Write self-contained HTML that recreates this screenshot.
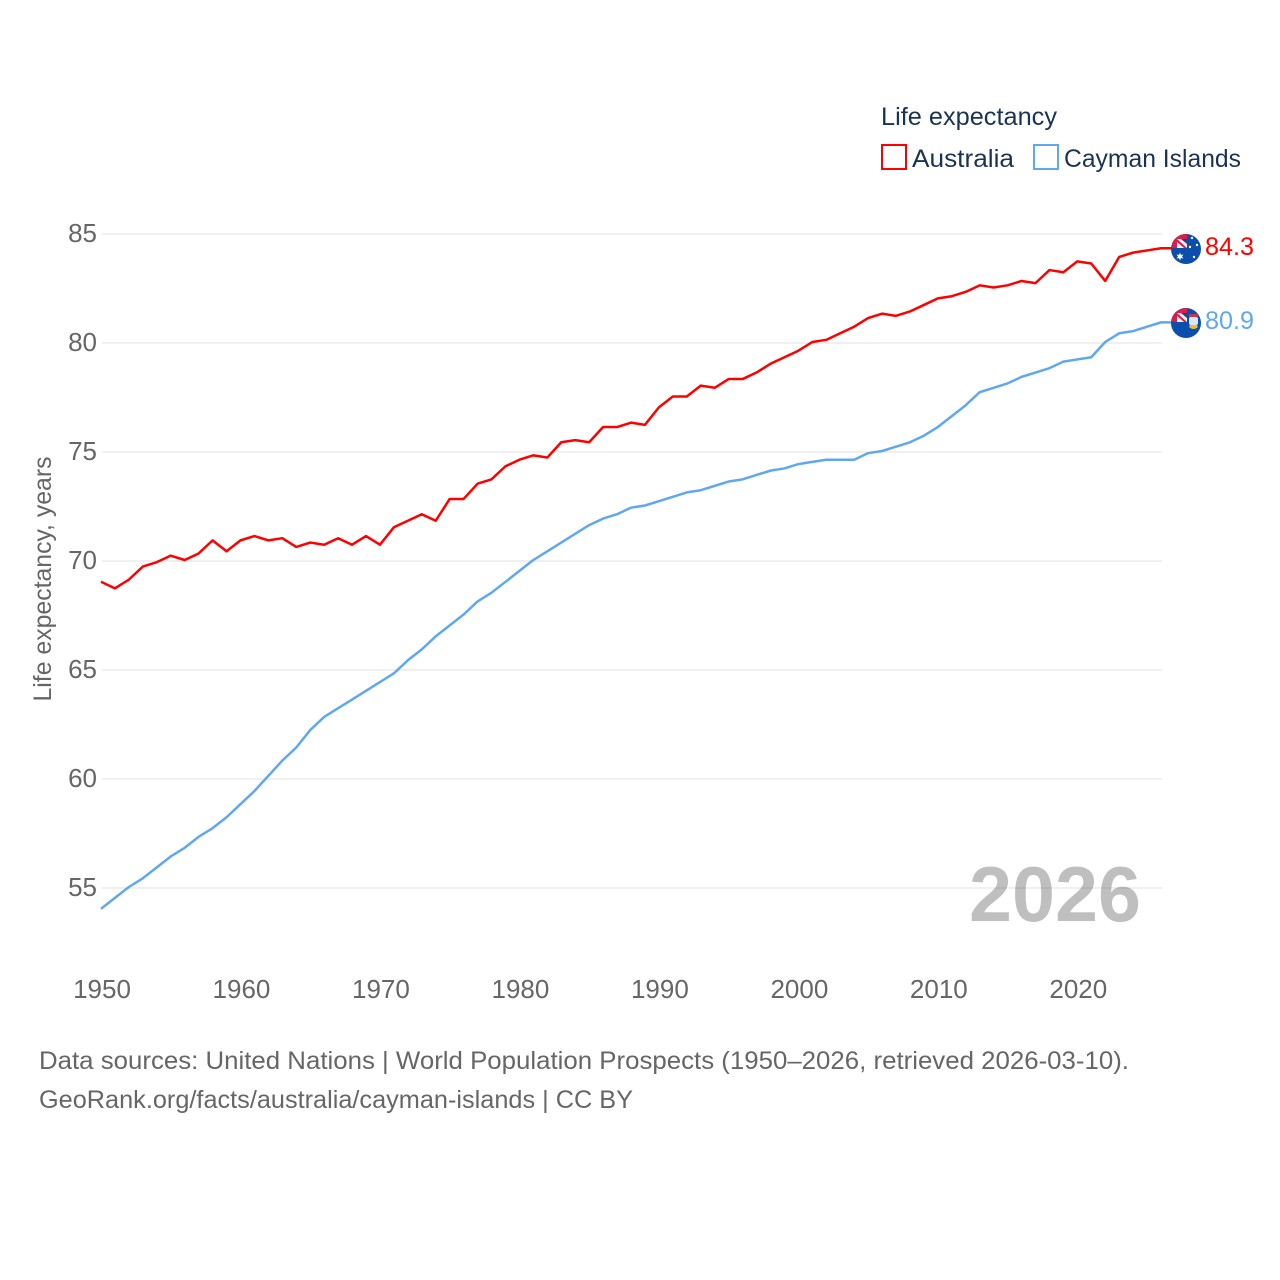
<!DOCTYPE html>
<html lang="en">
<head>
<meta charset="utf-8">
<title>Life expectancy: Australia and Cayman Islands</title>
<style>
html,body{margin:0;padding:0;background:#fff;width:1280px;height:1280px;overflow:hidden}
svg{display:block}
text{font-family:"Liberation Sans",sans-serif}
</style>
</head>
<body>
<svg id="chart" xmlns="http://www.w3.org/2000/svg" width="1280" height="1280" viewBox="0 0 1280 1280">
  <rect x="0" y="0" width="1280" height="1280" fill="#fff"/>
  <g id="grid"></g>
  <g id="yticks"></g>
  <g id="xticks"></g>
  <text transform="translate(51 579) rotate(-90)" text-anchor="middle" font-size="25" fill="#666" textLength="245" lengthAdjust="spacingAndGlyphs">Life expectancy, years</text>
  <text x="969" y="921" font-size="78" font-weight="bold" fill="#000" fill-opacity="0.25" textLength="172" lengthAdjust="spacingAndGlyphs">2026</text>
  <g id="series"></g>

  <g>
    <text x="881" y="125" font-size="25" fill="#1a3352" textLength="176" lengthAdjust="spacingAndGlyphs">Life expectancy</text>
    <rect x="882" y="145" width="24" height="24" fill="none" stroke="#ff0000" stroke-width="2"/>
    <text x="912" y="167" font-size="25" fill="#1a3352" textLength="102" lengthAdjust="spacingAndGlyphs">Australia</text>
    <rect x="1034" y="145" width="24" height="24" fill="none" stroke="#5fa8f0" stroke-width="2"/>
    <text x="1064" y="167" font-size="25" fill="#1a3352" textLength="177" lengthAdjust="spacingAndGlyphs">Cayman Islands</text>
  </g>

  <defs>
    <clipPath id="flagClipA"><circle cx="1186" cy="249" r="15"/></clipPath>
    <clipPath id="flagClipC"><circle cx="1186" cy="323" r="15"/></clipPath>
  </defs>
  <g clip-path="url(#flagClipA)">
    <rect x="1171" y="234" width="30" height="30" fill="#0b4eab"/>
    <rect x="1172" y="234" width="15" height="14" fill="#d81e4a"/>
    <rect x="1177" y="239" width="10" height="9" fill="#eef0f4"/>
    <path d="M1177 239L1187 248H1184L1177 242Z" fill="#d81e4a"/>
    <path d="M1181 239H1187V244Z" fill="#23407c"/>
    <path d="M1180 252.500L1181 255L1183.500 254.500L1182 256.500L1183.500 258.500L1181 258L1180 260.500L1179 258L1176.500 258.500L1178 256.500L1176.500 254.500L1179 255Z" fill="#fff"/>
    <circle cx="1192" cy="238" r="1.2" fill="#fff"/>
    <circle cx="1197" cy="245" r="1.2" fill="#fff"/>
    <circle cx="1190" cy="247" r="1.2" fill="#fff"/>
    <circle cx="1194" cy="257" r="1.2" fill="#fff"/>
  </g>
  <g clip-path="url(#flagClipC)">
    <rect x="1171" y="308" width="30" height="30" fill="#0b4eab"/>
    <rect x="1172" y="308" width="15" height="14" fill="#d81e4a"/>
    <rect x="1177" y="313" width="10" height="9" fill="#eef0f4"/>
    <path d="M1177 313L1187 322H1184L1177 316Z" fill="#d81e4a"/>
    <path d="M1181 313H1187V318Z" fill="#23407c"/>
    <rect x="1189" y="314" width="9" height="3" fill="#c8344a"/>
    <rect x="1189" y="317" width="9" height="8" rx="2" fill="#dce8f0"/>
    <path d="M1189 327Q1193.500 331 1198 327L1197 325H1190Z" fill="#f0c030"/>
  </g>
  <text x="1205" y="255" font-size="25" fill="#ff0000" textLength="49" lengthAdjust="spacingAndGlyphs">84.3</text>
  <text x="1205" y="329" font-size="25" fill="#5fa8f0" textLength="49" lengthAdjust="spacingAndGlyphs">80.9</text>

  <g>
    <text x="39" y="1069" font-size="25" fill="#666" textLength="1090" lengthAdjust="spacingAndGlyphs">Data sources: United Nations | World Population Prospects (1950–2026, retrieved 2026-03-10).</text>
    <text x="39" y="1108" font-size="25" fill="#666" textLength="594" lengthAdjust="spacingAndGlyphs">GeoRank.org/facts/australia/cayman-islands | CC BY</text>
  </g>
</svg>
<script>
const startYear = 1950;
const yTickValues = [55, 60, 65, 70, 75, 80, 85];
const xTickValues = [1950, 1960, 1970, 1980, 1990, 2000, 2010, 2020];
const australiaValues = [69.0,68.7,69.1,69.7,69.9,70.2,70.0,70.3,70.9,70.4,70.9,71.1,70.9,71.0,70.6,70.8,70.7,71.0,70.7,71.1,70.7,71.5,71.8,72.1,71.8,72.8,72.8,73.5,73.7,74.3,74.6,74.8,74.7,75.4,75.5,75.4,76.1,76.1,76.3,76.2,77.0,77.5,77.5,78.0,77.9,78.3,78.3,78.6,79.0,79.3,79.6,80.0,80.1,80.4,80.7,81.1,81.3,81.2,81.4,81.7,82.0,82.1,82.3,82.6,82.5,82.6,82.8,82.7,83.3,83.2,83.7,83.6,82.8,83.9,84.1,84.2,84.3];
const caymanValues = [54.0,54.5,55.0,55.4,55.9,56.4,56.8,57.3,57.7,58.2,58.8,59.4,60.1,60.8,61.4,62.2,62.8,63.2,63.6,64.0,64.4,64.8,65.4,65.9,66.5,67.0,67.5,68.1,68.5,69.0,69.5,70.0,70.4,70.8,71.2,71.6,71.9,72.1,72.4,72.5,72.7,72.9,73.1,73.2,73.4,73.6,73.7,73.9,74.1,74.2,74.4,74.5,74.6,74.6,74.6,74.9,75.0,75.2,75.4,75.7,76.1,76.6,77.1,77.7,77.9,78.1,78.4,78.6,78.8,79.1,79.2,79.3,80.0,80.4,80.5,80.7,80.9];

const NS = 'http://www.w3.org/2000/svg';
function xScale(year) { return 102 + (year - 1950) * (1060 / 76); }
function yScale(v) { return 234 + (85 - v) * 21.8; }
function lineX(year) { return xScale(year) - 1; }
function lineY(v) { return yScale(v) - 1; }

const gridGroup = document.getElementById('grid');
const yTickGroup = document.getElementById('yticks');
const xTickGroup = document.getElementById('xticks');
const seriesGroup = document.getElementById('series');

yTickValues.forEach(function (v) {
  const line = document.createElementNS(NS, 'line');
  
  
  line.setAttribute('x1', xScale(1950));
  line.setAttribute('x2', xScale(2026));
  line.setAttribute('y1', yScale(v));
  line.setAttribute('y2', yScale(v));
  line.setAttribute('stroke', '#f0f0f0');
  line.setAttribute('stroke-width', '2');
  gridGroup.appendChild(line);

  const label = document.createElementNS(NS, 'text');
  
  
  label.setAttribute('x', 97);
  label.setAttribute('y', yScale(v) + 8);
  label.setAttribute('text-anchor', 'end');
  label.setAttribute('font-size', '26');
  label.setAttribute('fill', '#666');
  label.textContent = v;
  yTickGroup.appendChild(label);
});

xTickValues.forEach(function (year) {
  const label = document.createElementNS(NS, 'text');
  
  
  label.setAttribute('x', xScale(year));
  label.setAttribute('y', 998);
  label.setAttribute('text-anchor', 'middle');
  label.setAttribute('font-size', '26');
  label.setAttribute('fill', '#666');
  label.textContent = year;
  xTickGroup.appendChild(label);
});

function buildPoints(values) {
  const pts = values.map(function (v, i) {
    return lineX(startYear + i).toFixed(2) + ',' + lineY(v).toFixed(2);
  });
  const last = values[values.length - 1];
  pts.push((lineX(startYear + values.length - 1) + 11).toFixed(2) + ',' + lineY(last).toFixed(2));
  return pts.join(' ');
}

const caymanLine = document.createElementNS(NS, 'polyline');


caymanLine.setAttribute('points', buildPoints(caymanValues));
caymanLine.setAttribute('fill', 'none');
caymanLine.setAttribute('stroke', '#5fa8f0');
caymanLine.setAttribute('stroke-width', '2.5');
caymanLine.setAttribute('stroke-linejoin', 'round');
seriesGroup.appendChild(caymanLine);

const australiaLine = document.createElementNS(NS, 'polyline');


australiaLine.setAttribute('points', buildPoints(australiaValues));
australiaLine.setAttribute('fill', 'none');
australiaLine.setAttribute('stroke', '#ff0000');
australiaLine.setAttribute('stroke-width', '2.5');
australiaLine.setAttribute('stroke-linejoin', 'round');
seriesGroup.appendChild(australiaLine);
</script>
</body>
</html>
